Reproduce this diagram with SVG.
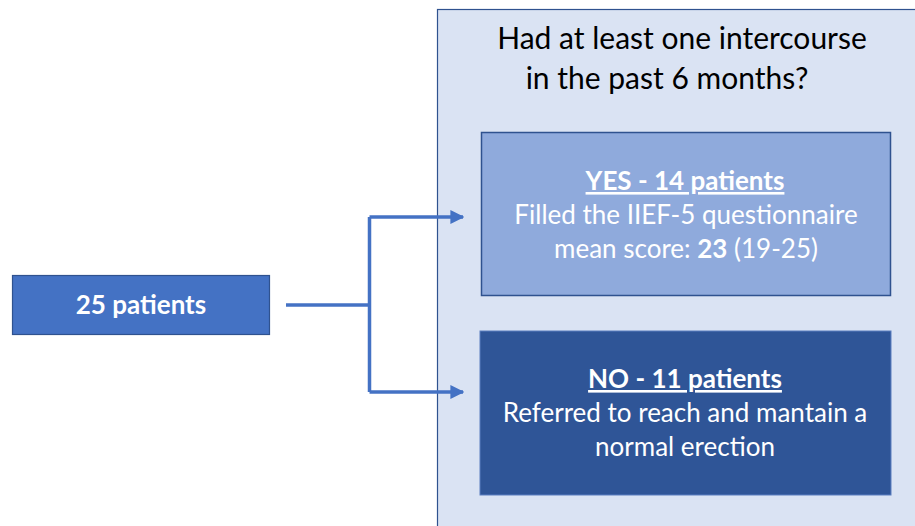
<svg xmlns="http://www.w3.org/2000/svg" width="915" height="526" viewBox="0 0 915 526">
<defs>
<style>
text{font-family:Lato,"Open Sans","Liberation Sans",sans-serif;text-anchor:middle}
.w{fill:#ffffff;font-size:26px}
.b{font-weight:bold}
.u{text-decoration:underline}
.conn{fill:none;stroke:#4472C4;stroke-width:3.5}
</style>
<marker id="ah" viewBox="0 0 10 10" refX="9" refY="5" markerWidth="4" markerHeight="4" markerUnits="strokeWidth" orient="auto">
<path d="M0,0 L10,5 L0,10 z" fill="#4472C4"/>
</marker>
</defs>
<rect width="915" height="526" fill="#ffffff"/>
<g id="container">
<rect x="437.5" y="9.5" width="490" height="530" fill="#DAE3F3" stroke="#2F528F" stroke-width="1.2"/>
<text x="682" y="49" font-size="30" fill="#000000">Had at least one intercourse</text>
<text x="667" y="89" font-size="30" fill="#000000">in the past 6 months?</text>
</g>
<g id="connectors">
<path class="conn" d="M286,305 H369.5"/>
<path class="conn" d="M369.5,217 V392" />
<path class="conn" d="M369.5,217 H463" marker-end="url(#ah)"/>
<path class="conn" d="M369.5,392 H463" marker-end="url(#ah)"/>
</g>
<g id="start">
<rect x="12.5" y="275.5" width="257" height="59" fill="#4472C4" stroke="#2F528F" stroke-width="1.2"/>
<text class="w b" x="141" y="314">25 patients</text>
</g>
<g id="yes">
<rect x="481.5" y="132.5" width="409" height="163" fill="#8FAADC" stroke="#2F528F" stroke-width="1.5"/>
<text class="w b u" x="685" y="190">YES - 14 patients</text>
<text class="w" x="686" y="224">Filled the IIEF-5 questionnaire</text>
<text class="w" x="686" y="258">mean score: <tspan class="b">23</tspan> (19-25)</text>
</g>
<g id="no">
<rect x="480" y="331" width="411" height="164" fill="#2F5597" stroke="#5B7FC0" stroke-width="1"/>
<text class="w b u" x="685" y="388">NO - 11 patients</text>
<text class="w" x="685" y="422">Referred to reach and mantain a</text>
<text class="w" x="685" y="456">normal erection</text>
</g>
</svg>
